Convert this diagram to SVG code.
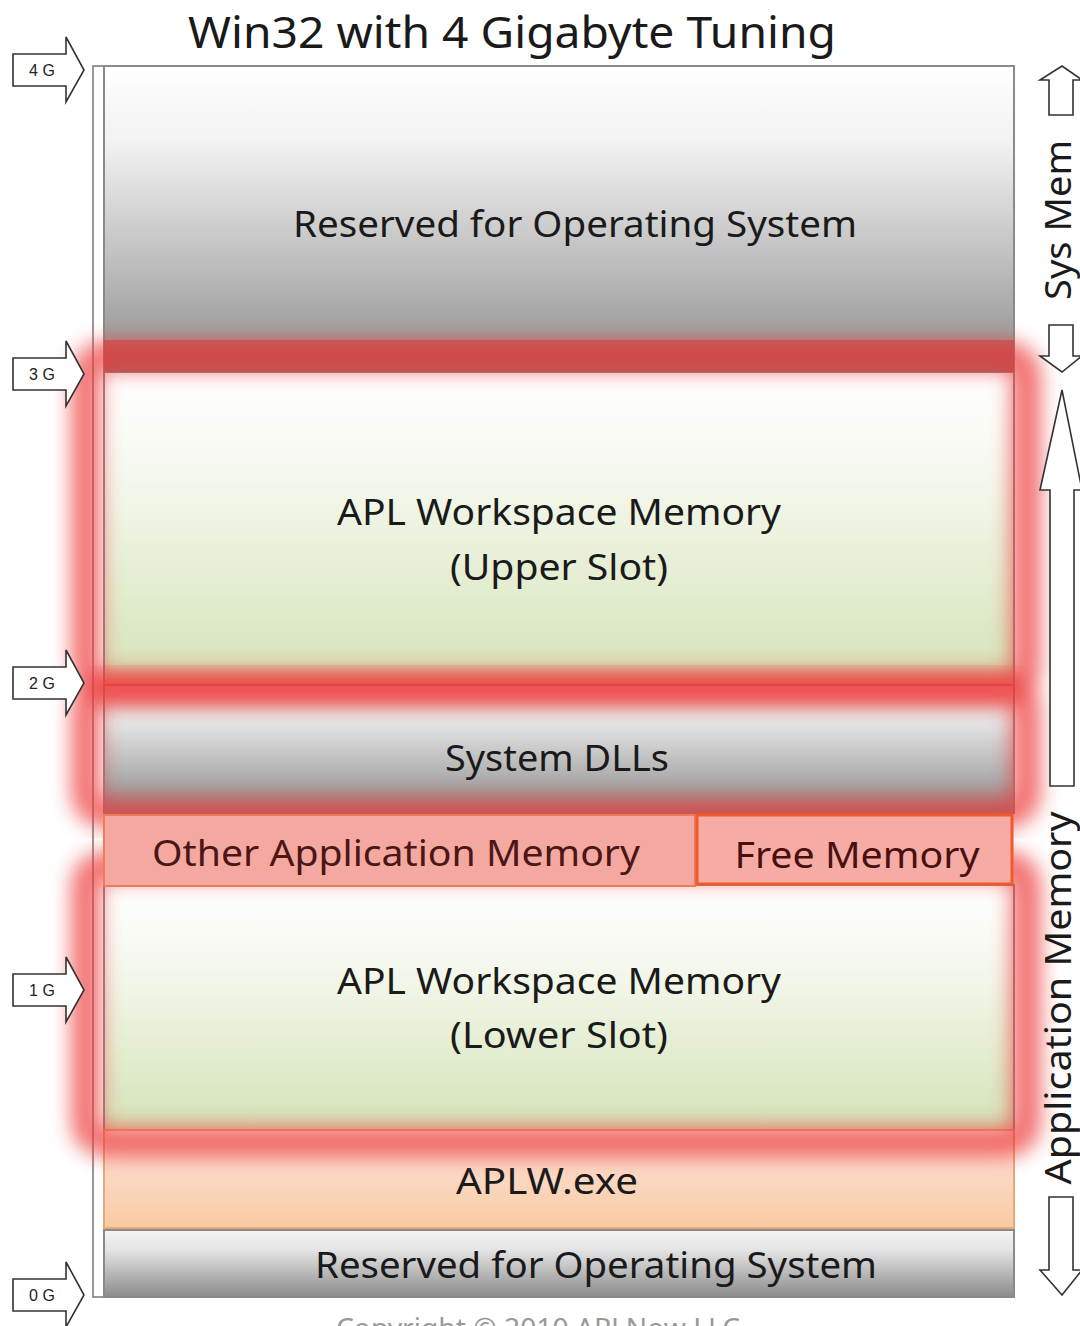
<svg xmlns="http://www.w3.org/2000/svg" width="1080" height="1326" viewBox="0 0 1080 1326">
<style>
.t{font-family:"Noto Sans","Open Sans","Liberation Sans",sans-serif;fill:#1a1a1a;text-anchor:middle}
.lbl{font-family:"Liberation Sans",sans-serif;font-size:16px;fill:#222;text-anchor:middle}
.blk{stroke:#8a8a8a;stroke-width:2}
.arr{fill:#fff;stroke:#333;stroke-width:1.6;stroke-linejoin:miter}
.glow{fill:none;stroke:#ee3b3b;stroke-width:30;opacity:0.72;filter:url(#blur)}
</style>
<defs>
<linearGradient id="gray" x1="0" y1="0" x2="0" y2="1">
<stop offset="0" stop-color="#ffffff"/><stop offset="0.25" stop-color="#f2f2f2"/><stop offset="1" stop-color="#8e8e8e"/>
</linearGradient>
<linearGradient id="gray2" x1="0" y1="0" x2="0" y2="1">
<stop offset="0" stop-color="#f4f4f4"/><stop offset="0.3" stop-color="#e4e4e4"/><stop offset="1" stop-color="#8a8a8a"/>
</linearGradient>
<linearGradient id="green" x1="0" y1="0" x2="0" y2="1">
<stop offset="0" stop-color="#ffffff"/><stop offset="0.3" stop-color="#f6f9f0"/><stop offset="1" stop-color="#d4e3b6"/>
</linearGradient>
<linearGradient id="peach" x1="0" y1="0" x2="0" y2="1">
<stop offset="0" stop-color="#fde6e0"/><stop offset="1" stop-color="#f9caa2"/>
</linearGradient>
<filter id="blur" x="-10%" y="-20%" width="120%" height="140%"><feGaussianBlur stdDeviation="10"/></filter>
</defs>

<text class="t" x="512" y="48" font-size="44" textLength="648" lengthAdjust="spacingAndGlyphs">Win32 with 4 Gigabyte Tuning</text>

<g id="left-bar"><rect x="93" y="66" width="11" height="1231" fill="#fff" stroke="#777" stroke-width="1.5"/></g>

<g id="os-top"><rect class="blk" x="104" y="66" width="910" height="306" fill="url(#gray)"/>
<text class="t" x="575" y="237" font-size="37" textLength="564" lengthAdjust="spacingAndGlyphs">Reserved for Operating System</text></g>

<g id="apl-upper"><rect class="blk" x="104" y="372" width="910" height="313" fill="url(#green)"/>
<text class="t" x="559" y="525" font-size="37" textLength="444" lengthAdjust="spacingAndGlyphs">APL Workspace Memory</text>
<text class="t" x="559" y="580" font-size="37" textLength="218" lengthAdjust="spacingAndGlyphs">(Upper Slot)</text></g>

<g id="system-dlls"><rect class="blk" x="104" y="685" width="910" height="128" fill="url(#gray2)"/>
<text class="t" x="557" y="771" font-size="37" textLength="224" lengthAdjust="spacingAndGlyphs">System DLLs</text></g>

<g id="apl-lower"><rect class="blk" x="104" y="885" width="910" height="245" fill="url(#green)"/>
<text class="t" x="559" y="994" font-size="37" textLength="444" lengthAdjust="spacingAndGlyphs">APL Workspace Memory</text>
<text class="t" x="559" y="1048" font-size="37" textLength="218" lengthAdjust="spacingAndGlyphs">(Lower Slot)</text></g>

<g id="aplw-exe"><rect x="104" y="1130" width="910" height="98" fill="url(#peach)" stroke="#e8a878" stroke-width="2"/>
<text class="t" x="547" y="1194" font-size="37" textLength="182" lengthAdjust="spacingAndGlyphs">APLW.exe</text></g>

<g id="os-bottom"><rect class="blk" x="104" y="1230" width="910" height="67" fill="url(#gray2)"/>
<text class="t" x="596" y="1278" font-size="37" textLength="562" lengthAdjust="spacingAndGlyphs">Reserved for Operating System</text></g>

<g id="highlights">
<rect class="glow" x="86" y="356" width="940" height="330" rx="20"/>
<rect class="glow" x="86" y="690" width="940" height="123" rx="20"/>
<rect class="glow" x="86" y="866" width="940" height="276" rx="20"/>
<rect x="104" y="340" width="910" height="32" fill="#d43c3c" opacity="0.55"/>
</g>

<g id="other-app"><rect x="104" y="815" width="591" height="71" fill="#f5a8a0" stroke="#ee7a5a" stroke-width="2"/>
<text class="t" x="396" y="866" font-size="37" style="fill:#4a1616" textLength="488" lengthAdjust="spacingAndGlyphs">Other Application Memory</text></g>

<g id="free-memory"><rect x="697" y="815" width="315" height="69" fill="#f6aca4" stroke="#f05a2a" stroke-width="3"/>
<text class="t" x="857" y="868" font-size="37" style="fill:#4a1010" textLength="245" lengthAdjust="spacingAndGlyphs">Free Memory</text></g>

<g id="marker-4g"><polygon class="arr" points="13,54 66,54 66,37 84,70 66,102 66,86 13,86"/><text class="lbl" x="42" y="76">4 G</text></g>
<g id="marker-3g"><polygon class="arr" points="13,358 66,358 66,341 84,374 66,406 66,390 13,390"/><text class="lbl" x="42" y="380">3 G</text></g>
<g id="marker-2g"><polygon class="arr" points="13,667 66,667 66,650 84,683 66,715 66,699 13,699"/><text class="lbl" x="42" y="689">2 G</text></g>
<g id="marker-1g"><polygon class="arr" points="13,974 66,974 66,957 84,990 66,1022 66,1006 13,1006"/><text class="lbl" x="42" y="996">1 G</text></g>
<g id="marker-0g"><polygon class="arr" points="13,1279 66,1279 66,1262 84,1295 66,1327 66,1311 13,1311"/><text class="lbl" x="42" y="1301">0 G</text></g>

<g id="connectors">
<polygon class="arr" points="1062,66 1082,80 1073,80 1073,115 1049,115 1049,80 1040,80"/>
<polygon class="arr" points="1049,325 1073,325 1073,356 1082,356 1062,372 1040,356 1049,356"/>
<polygon class="arr" points="1062,390 1082,490 1074,490 1074,786 1050,786 1050,490 1040,490"/>
<polygon class="arr" points="1049,1197 1073,1197 1073,1270 1082,1270 1062,1295 1040,1270 1049,1270"/>
</g>

<g id="side-labels">
<text class="t" transform="translate(1071,220) rotate(-90)" font-size="36" textLength="160" lengthAdjust="spacingAndGlyphs">Sys Mem</text>
<text class="t" transform="translate(1071,998) rotate(-90)" font-size="36" textLength="373" lengthAdjust="spacingAndGlyphs">Application Memory</text>
</g>

<text x="538" y="1338" font-family="Noto Sans, Liberation Sans, sans-serif" font-size="28" fill="#999" text-anchor="middle" textLength="404" lengthAdjust="spacingAndGlyphs">Copyright © 2010 APLNow LLC</text>
</svg>
